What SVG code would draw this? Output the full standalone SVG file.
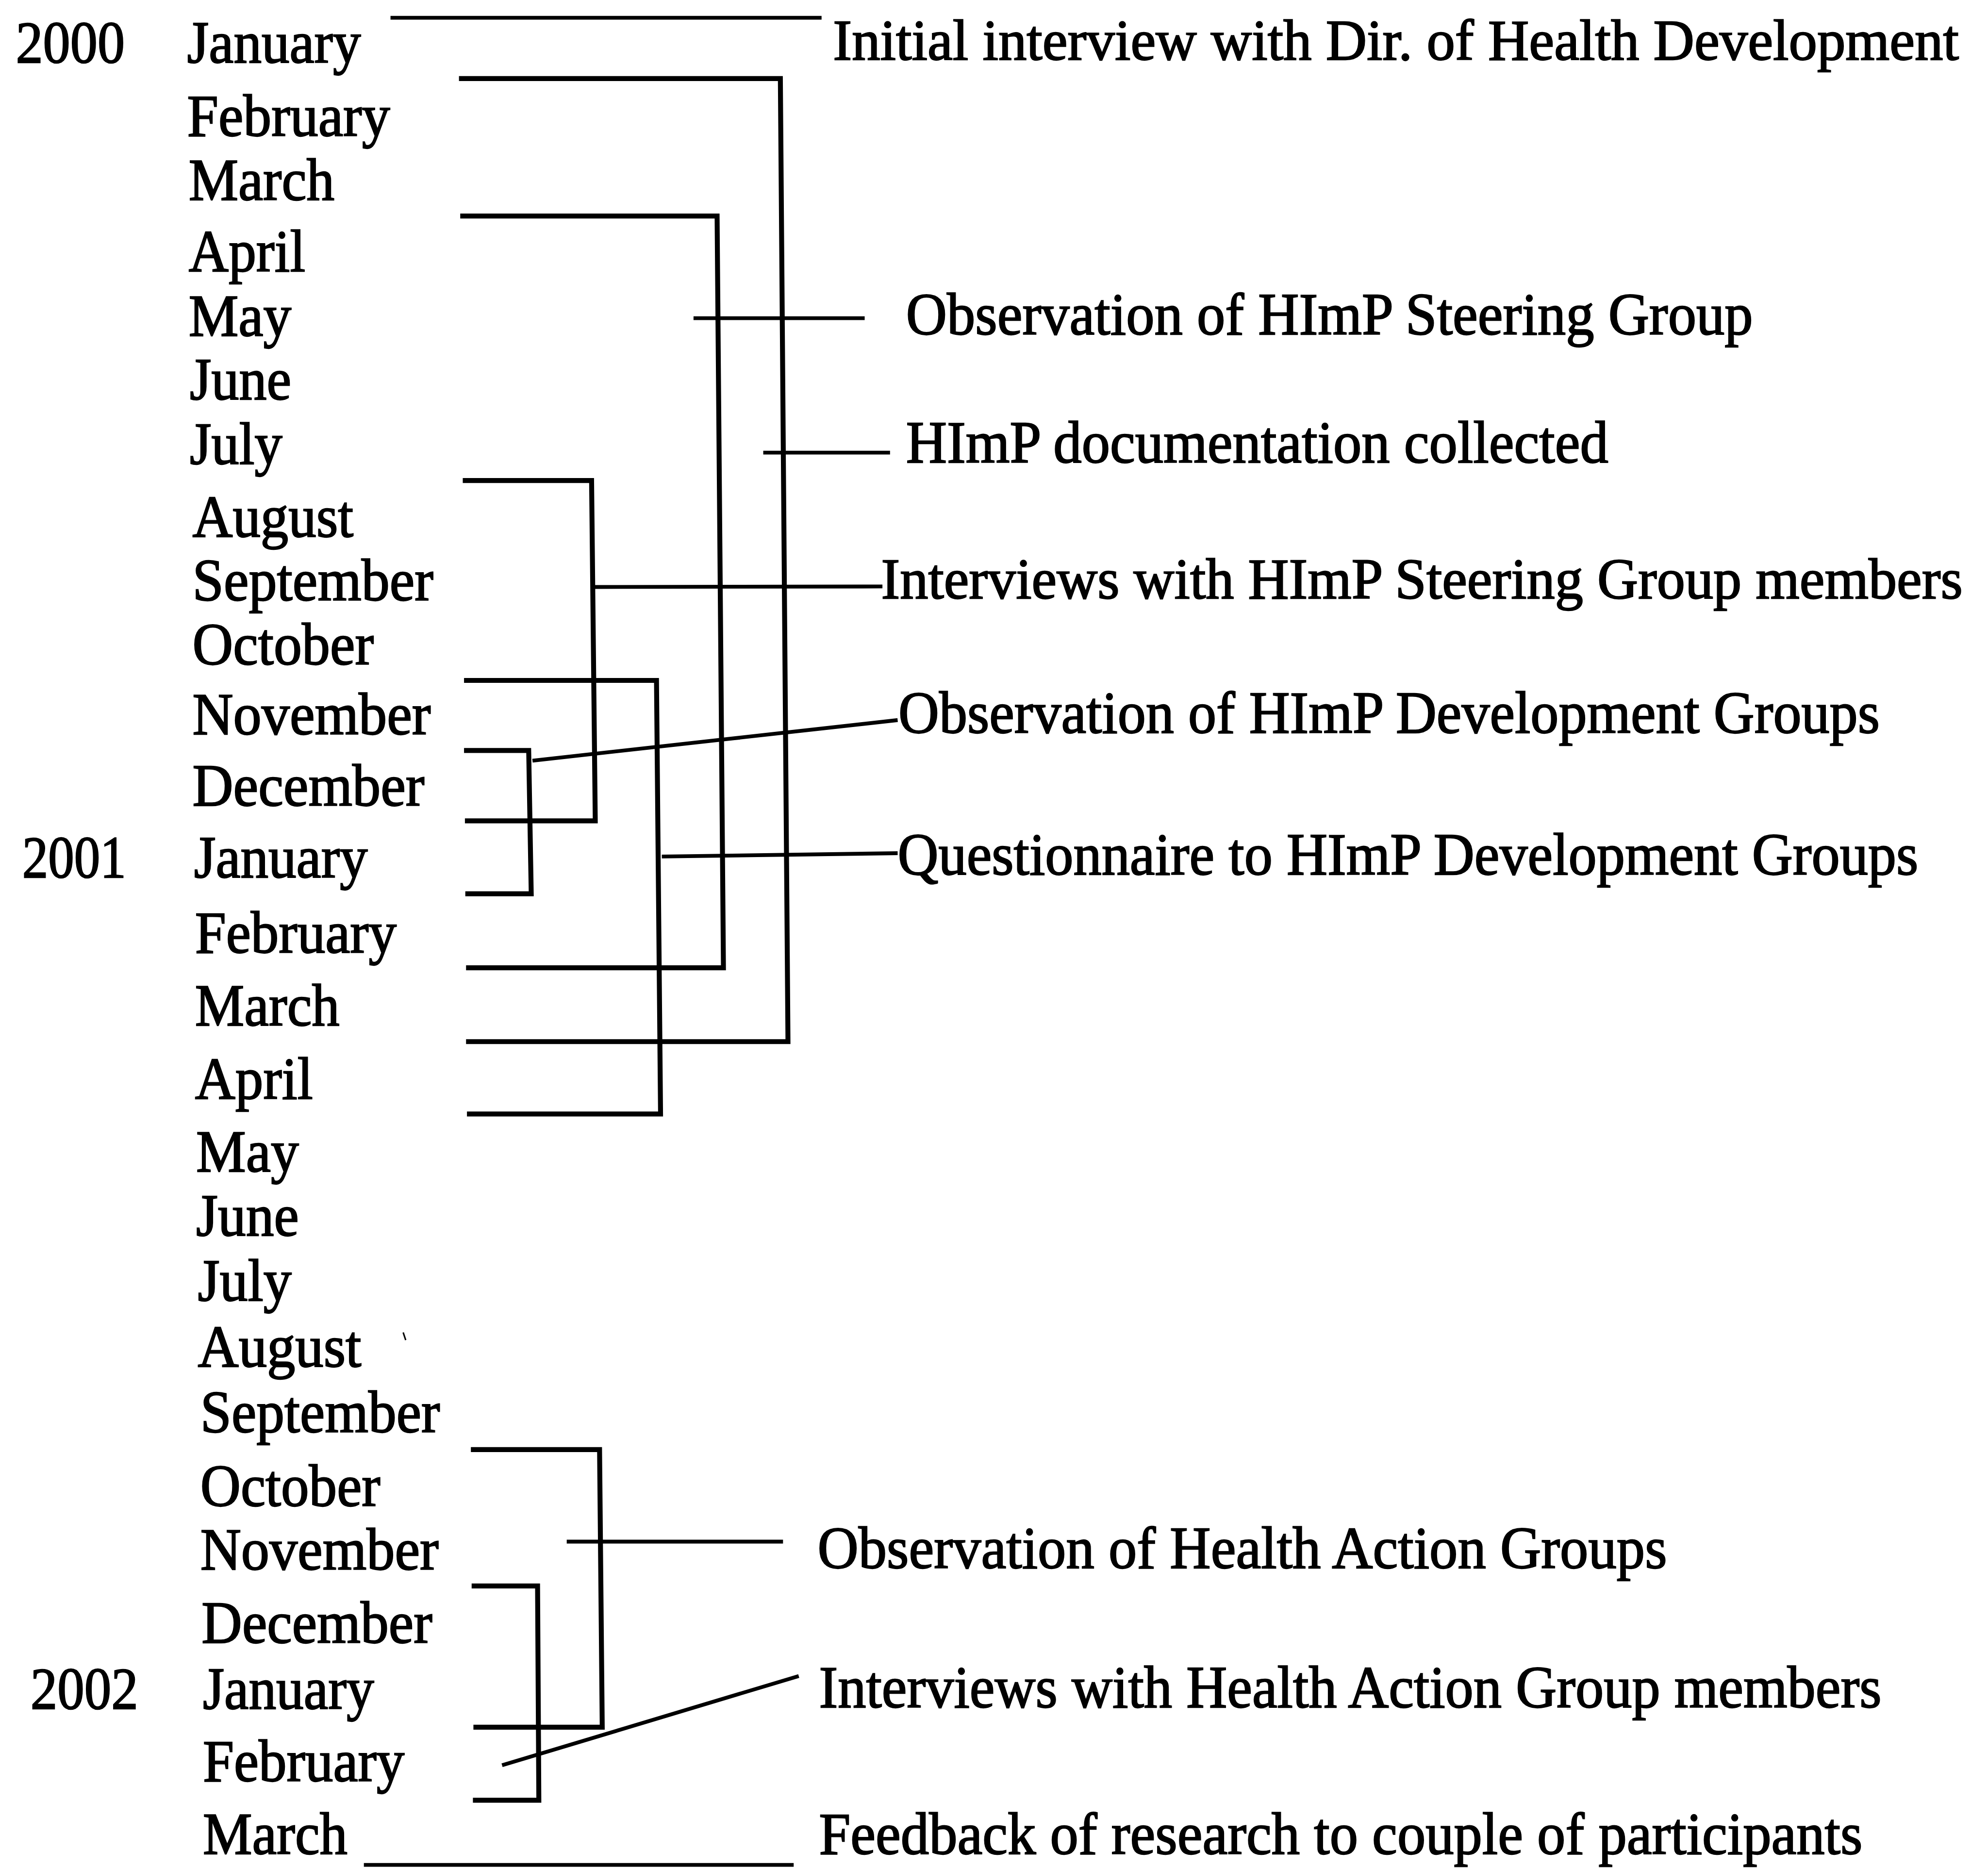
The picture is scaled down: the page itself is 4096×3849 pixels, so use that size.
<svg xmlns="http://www.w3.org/2000/svg" width="4096" height="3849" viewBox="0 0 4096 3849">
<style>
.t{font-family:"Liberation Serif","Times New Roman",serif;font-size:47px;fill:#000;stroke:#000;stroke-width:0.9px}
.s{font-size:45px}
.br{fill:none;stroke:#000;stroke-width:3.9;stroke-linejoin:miter;stroke-linecap:butt}
.ld{fill:none;stroke:#000;stroke-width:3;stroke-linecap:butt}
</style>
<rect width="4096" height="3849" fill="#fff"/>
<g transform="scale(2.612245)">
<g id="years">
<g id="y2000"><text class="t" x="12.4" y="49.4" textLength="86" lengthAdjust="spacingAndGlyphs">2000</text></g>
<g id="y2001"><text class="t" x="17.5" y="692" textLength="82" lengthAdjust="spacingAndGlyphs">2001</text></g>
<g id="y2002"><text class="t" x="24" y="1348" textLength="85" lengthAdjust="spacingAndGlyphs">2002</text></g>
</g>
<g id="months">
<g id="m2000-01"><text class="t" x="147.6" y="49.4" textLength="137" lengthAdjust="spacingAndGlyphs">January</text></g>
<g id="m2000-02"><text class="t" x="147.6" y="107" textLength="160" lengthAdjust="spacingAndGlyphs">February</text></g>
<g id="m2000-03"><text class="t" x="148.8" y="157.7" textLength="115" lengthAdjust="spacingAndGlyphs">March</text></g>
<g id="m2000-04"><text class="t" x="148.8" y="214" textLength="92" lengthAdjust="spacingAndGlyphs">April</text></g>
<g id="m2000-05"><text class="t" x="148.8" y="265" textLength="81" lengthAdjust="spacingAndGlyphs">May</text></g>
<g id="m2000-06"><text class="t" x="149.7" y="315" textLength="80" lengthAdjust="spacingAndGlyphs">June</text></g>
<g id="m2000-07"><text class="t" x="149.7" y="366" textLength="73" lengthAdjust="spacingAndGlyphs">July</text></g>
<g id="m2000-08"><text class="t" x="151.8" y="423.3" textLength="127" lengthAdjust="spacingAndGlyphs">August</text></g>
<g id="m2000-09"><text class="t" x="151.8" y="473.4" textLength="190" lengthAdjust="spacingAndGlyphs">September</text></g>
<g id="m2000-10"><text class="t" x="151.8" y="524" textLength="143" lengthAdjust="spacingAndGlyphs">October</text></g>
<g id="m2000-11"><text class="t" x="151.8" y="579.3" textLength="188" lengthAdjust="spacingAndGlyphs">November</text></g>
<g id="m2000-12"><text class="t" x="151.8" y="635.4" textLength="183" lengthAdjust="spacingAndGlyphs">December</text></g>
<g id="m2001-01"><text class="t" x="153" y="692" textLength="137" lengthAdjust="spacingAndGlyphs">January</text></g>
<g id="m2001-02"><text class="t" x="153.8" y="751.5" textLength="159" lengthAdjust="spacingAndGlyphs">February</text></g>
<g id="m2001-03"><text class="t" x="153.8" y="809" textLength="114" lengthAdjust="spacingAndGlyphs">March</text></g>
<g id="m2001-04"><text class="t" x="153.8" y="866.6" textLength="93" lengthAdjust="spacingAndGlyphs">April</text></g>
<g id="m2001-05"><text class="t" x="154.7" y="924" textLength="81" lengthAdjust="spacingAndGlyphs">May</text></g>
<g id="m2001-06"><text class="t" x="154.7" y="974.5" textLength="81" lengthAdjust="spacingAndGlyphs">June</text></g>
<g id="m2001-07"><text class="t" x="156" y="1026" textLength="74" lengthAdjust="spacingAndGlyphs">July</text></g>
<g id="m2001-08"><text class="t" x="156" y="1078" textLength="129" lengthAdjust="spacingAndGlyphs">August</text></g>
<g id="m2001-09"><text class="t" x="158" y="1129.5" textLength="189" lengthAdjust="spacingAndGlyphs">September</text></g>
<g id="m2001-10"><text class="t" x="158" y="1188" textLength="142" lengthAdjust="spacingAndGlyphs">October</text></g>
<g id="m2001-11"><text class="t" x="158" y="1238" textLength="188" lengthAdjust="spacingAndGlyphs">November</text></g>
<g id="m2001-12"><text class="t" x="159" y="1296" textLength="182" lengthAdjust="spacingAndGlyphs">December</text></g>
<g id="m2002-01"><text class="t" x="160" y="1348" textLength="135" lengthAdjust="spacingAndGlyphs">January</text></g>
<g id="m2002-02"><text class="t" x="160" y="1405" textLength="159" lengthAdjust="spacingAndGlyphs">February</text></g>
<g id="m2002-03"><text class="t" x="160" y="1462.5" textLength="114" lengthAdjust="spacingAndGlyphs">March</text></g>
</g>
<g id="activities">
<g id="a-initial-interview"><text class="t s" x="657" y="47" textLength="888" lengthAdjust="spacingAndGlyphs">Initial interview with Dir. of Health Development</text></g>
<g id="a-obs-steering"><text class="t" x="714.6" y="263.6" textLength="668" lengthAdjust="spacingAndGlyphs">Observation of HImP Steering Group</text></g>
<g id="a-documentation"><text class="t" x="714.6" y="364.7" textLength="554" lengthAdjust="spacingAndGlyphs">HImP documentation collected</text></g>
<g id="a-int-steering"><text class="t s" x="695" y="472" textLength="853" lengthAdjust="spacingAndGlyphs">Interviews with HImP Steering Group members</text></g>
<g id="a-obs-dev"><text class="t" x="708.6" y="578" textLength="774" lengthAdjust="spacingAndGlyphs">Observation of HImP Development Groups</text></g>
<g id="a-questionnaire"><text class="t" x="708" y="690" textLength="805" lengthAdjust="spacingAndGlyphs">Questionnaire to HImP Development Groups</text></g>
<g id="a-obs-hag"><text class="t" x="644.8" y="1237" textLength="670" lengthAdjust="spacingAndGlyphs">Observation of Health Action Groups</text></g>
<g id="a-int-hag"><text class="t" x="646" y="1346.7" textLength="838" lengthAdjust="spacingAndGlyphs">Interviews with Health Action Group members</text></g>
<g id="a-feedback"><text class="t" x="646" y="1462.5" textLength="823" lengthAdjust="spacingAndGlyphs">Feedback of research to couple of participants</text></g>
</g>
<g id="connectors">
<polyline class="br" points="362,62 615.5,62 621.5,821.6 367.6,821.6"/>
<polyline class="br" points="363,170.4 565.6,170.4 570.6,763.4 367.6,763.4"/>
<polyline class="br" points="365,379 466.6,379 469.5,647.5 366.7,647.5"/>
<polyline class="br" points="366,536.7 517.8,536.7 521,878.7 368.3,878.7"/>
<polyline class="br" points="366,592 417,592 419,705 367,705"/>
<polyline class="br" points="371.4,1143.4 472.9,1143.4 475,1362.4 373.4,1362.4"/>
<polyline class="br" points="372,1251 424,1251 425,1420 373,1420"/>
<line class="ld" x1="308" y1="14" x2="648" y2="14"/>
<line class="ld" x1="547" y1="251" x2="682" y2="251"/>
<line class="ld" x1="602" y1="357" x2="702" y2="357"/>
<line class="ld" x1="468" y1="463" x2="696" y2="462.6"/>
<line class="ld" x1="420" y1="600" x2="708" y2="568"/>
<line class="ld" x1="522" y1="675.6" x2="708" y2="673"/>
<line class="ld" x1="447" y1="1216" x2="617.6" y2="1216"/>
<line class="ld" x1="396" y1="1392.4" x2="630" y2="1322"/>
<line class="ld" x1="287" y1="1471" x2="626" y2="1471"/>
<line x1="318" y1="1051" x2="320" y2="1057" stroke="#000" stroke-width="1.2"/>
</g>
</g>
</svg>
